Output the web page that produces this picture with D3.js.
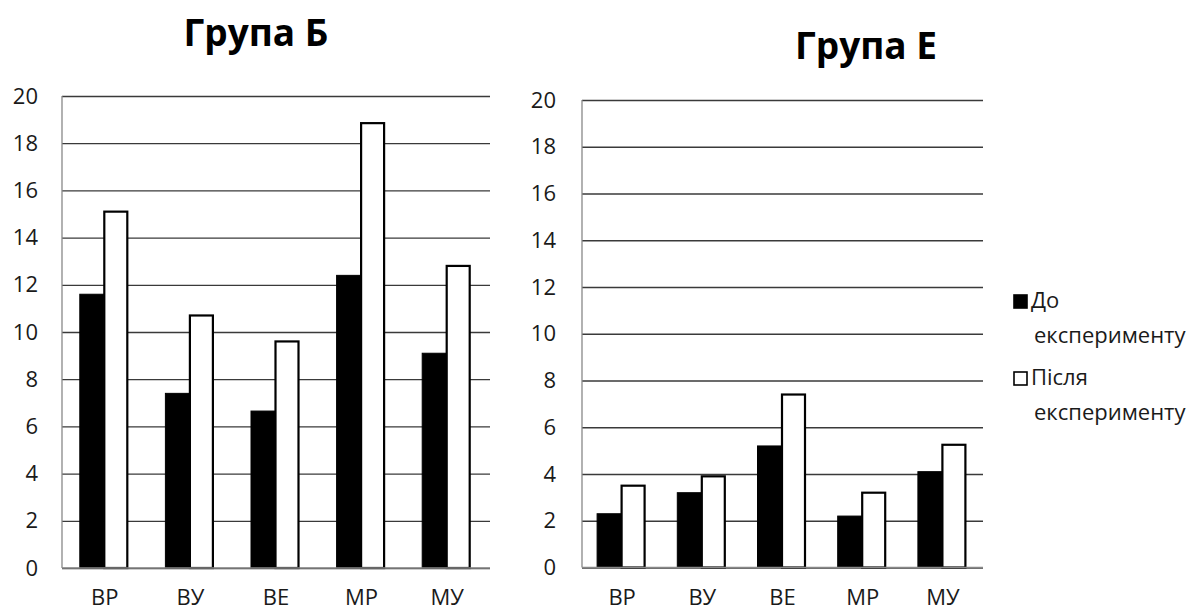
<!DOCTYPE html>
<html><head><meta charset="utf-8">
<script src="https://cdn.jsdelivr.net/npm/d3@7"></script>
<style>body{margin:0;background:#fff}svg{display:block}</style>
</head><body>
<svg id="c" width="1198" height="612"></svg>
<script>
const categories = ["ВР","ВУ","ВЕ","МР","МУ"];
const seriesNames = ["До експерименту","Після експерименту"];
const groupB_before = [11.6, 7.4, 6.65, 12.4, 9.1];
const groupB_after  = [15.1, 10.7, 9.6, 18.85, 12.8];
const groupE_before = [2.3, 3.2, 5.2, 2.2, 4.1];
const groupE_after  = [3.5, 3.9, 7.4, 3.2, 5.25];
const yTicks = [0,2,4,6,8,10,12,14,16,18,20];
const titles = ["Група Б","Група Е"];

const svg = d3.select("#c");
const FONT = "'Open Sans', sans-serif";

function drawChart(cfg){
  const g = svg.append("g");
  const y = d3.scaleLinear().domain([0,20]).range([cfg.y0, cfg.y20]);
  const x = d3.scaleBand().domain(categories).range([cfg.x0, cfg.x1]).paddingInner(0).paddingOuter(0);
  const axisY = d3.axisLeft(y).tickValues(yTicks).tickSize(-(cfg.x1-cfg.x0)).tickPadding(cfg.x0-cfg.labelRight);
  const ag = g.append("g").attr("transform",`translate(${cfg.x0},0)`).call(axisY);
  ag.select(".domain").remove();
  ag.selectAll(".tick line").attr("stroke","#3a3a3a").attr("stroke-width",1.3);
  ag.selectAll(".tick text").attr("font-family",FONT).attr("font-size",22).attr("fill","#1a1a1a");
  g.append("line").attr("x1",cfg.x0).attr("x2",cfg.x0).attr("y1",y(0)).attr("y2",y(20)).attr("stroke","#888").attr("stroke-width",1.3);
  const data = categories.map((c,i)=>({c, v:[cfg.before[i], cfg.after[i]]}));
  const bw = 24;
  data.forEach(d=>{
    const center = x(d.c) + x.bandwidth()/2 - 1;
    [0,1].forEach(k=>{
      const left = center - bw + k*bw;
      g.append("rect")
        .attr("x", left + (k?0.5:0)).attr("y", y(d.v[k]))
        .attr("width", k? bw-1 : bw).attr("height", y(0)-y(d.v[k]))
        .attr("fill", k? "#fff":"#000")
        .attr("stroke","#000").attr("stroke-width", k?2.2:1);
    });
  });
  g.append("line").attr("x1",cfg.x0).attr("x2",cfg.x1).attr("y1",y(0)).attr("y2",y(0)).attr("stroke","#888").attr("stroke-width",1.3);
  const xa = d3.axisBottom(x).tickSize(0).tickPadding(0);
  const xg = g.append("g").attr("transform",`translate(0,${cfg.labelY})`).call(xa);
  xg.select(".domain").remove();
  xg.selectAll(".tick text").attr("font-family",FONT).attr("font-size",22).attr("fill","#1a1a1a").attr("dy",0);
  g.append("text").attr("x",cfg.titleX).attr("y",cfg.titleY).attr("text-anchor","middle")
    .attr("font-family",FONT).attr("font-weight",700).attr("font-size",37).attr("fill","#000").text(cfg.title);
}

drawChart({x0:62, x1:490, y0:568, y20:96, labelRight:38, labelY:605, before:groupB_before, after:groupB_after, title:titles[0], titleX:256, titleY:46});
drawChart({x0:582, x1:983, y0:567.5, y20:100, labelRight:556, labelY:605, before:groupE_before, after:groupE_after, title:titles[1], titleX:866, titleY:59});

const lg = svg.append("g");
const legendItems = [
  {fill:"#000", lines:["До","експерименту"], y:308},
  {fill:"#fff", lines:["Після","експерименту"], y:385}
];
legendItems.forEach((it,i)=>{
  lg.append("rect").attr("x",1014).attr("y",it.y-13).attr("width",13).attr("height",13)
    .attr("fill",it.fill).attr("stroke","#000").attr("stroke-width",1.6);
  it.lines.forEach((t,j)=>{
    lg.append("text").attr("x",j?1034:1031).attr("y",it.y+j*35).attr("font-family",FONT)
      .attr("font-size",22).attr("fill","#1a1a1a").text(t);
  });
});
</script>
</body></html>
